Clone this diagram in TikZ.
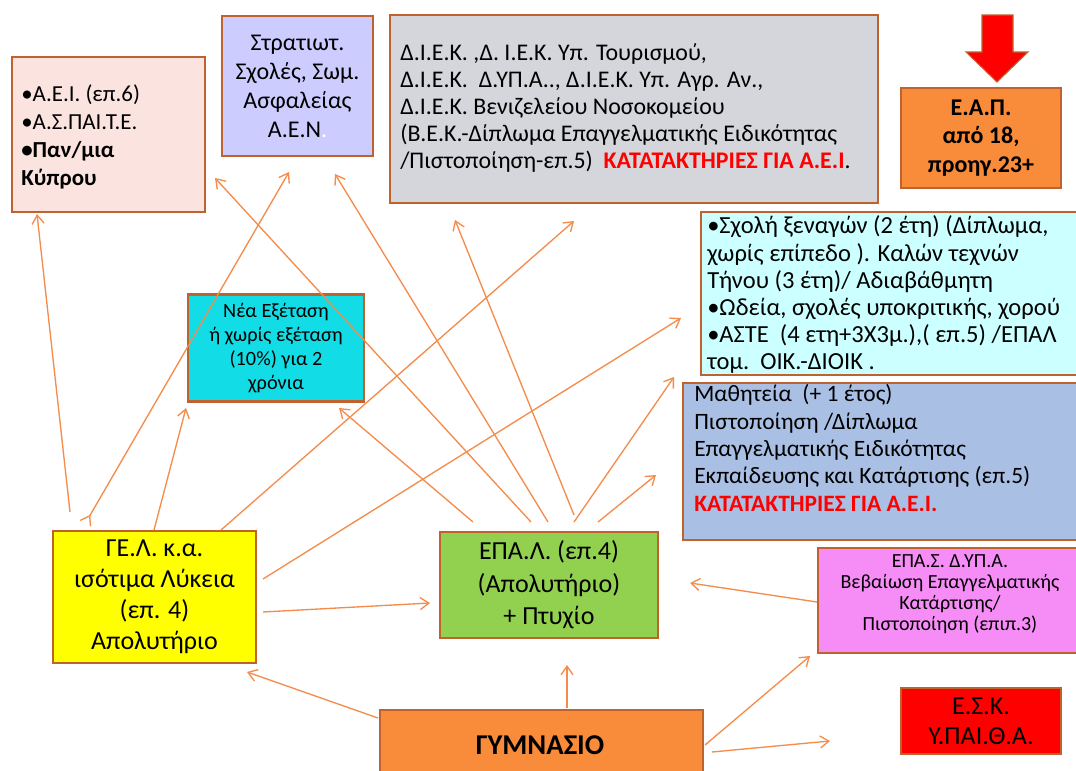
\documentclass[tikz,border=0pt]{standalone}
\usepackage{fontspec}
\setmainfont{Carlito}
\usetikzlibrary{arrows.meta}
\definecolor{bord}{RGB}{192,98,46}
\definecolor{conc}{RGB}{245,140,75}
\definecolor{aeifill}{RGB}{251,228,224}
\definecolor{milfill}{RGB}{204,204,255}
\definecolor{diekfill}{RGB}{212,214,219}
\definecolor{orfill}{RGB}{249,140,58}
\definecolor{tourfill}{RGB}{204,255,255}
\definecolor{mathfill}{RGB}{169,191,228}
\definecolor{neafill}{RGB}{18,221,230}
\definecolor{gelfill}{RGB}{255,255,0}
\definecolor{epalfill}{RGB}{146,208,80}
\definecolor{epasfill}{RGB}{246,140,246}
\definecolor{eskfill}{RGB}{255,0,0}
\definecolor{redtxt}{RGB}{255,0,0}
\begin{document}
\begin{tikzpicture}[x=0.75pt,y=-0.75pt,
  box/.style={draw=bord, line width=2.2pt, inner sep=0pt},
  txt/.style={inner sep=0pt},
  conn/.style={draw=conc, line width=1pt, -{Straight Barb[length=6.5pt,width=9pt]}},
]
\useasboundingbox (0,0) rectangle (1076,771);
\fill[white] (0,0) rectangle (1076,771);

% boxes
\node[box, fill=aeifill, minimum width=144.75pt, minimum height=116.25pt] (aei) at (108.5,134.5) {};
\node[box, fill=milfill, minimum width=113.25pt, minimum height=105pt, align=center,
  font=\fontsize{18}{21.75}\selectfont] (mil) at (297.5,86) {Στρατιωτ.\\Σχολές, Σωμ.\\Ασφαλείας\\Α.Ε.Ν{\color{white}.}};
\node[box, fill=diekfill, minimum width=366pt, minimum height=141pt] (diek) at (634,109) {};
\node[box, fill=orfill, minimum width=120pt, minimum height=75pt, align=center,
  font=\fontsize{18}{21.5}\selectfont\bfseries] (eap) at (981,138) {Ε.Α.Π.\\από 18,\\προηγ.23+};
\node[box, fill=tourfill, minimum width=291.75pt, minimum height=122.25pt] (tour) at (895.5,293.5) {};
\node[box, fill=mathfill, minimum width=305.25pt, minimum height=117.75pt] (math) at (886.5,461.5) {};
\node[box, fill=neafill, minimum width=132pt, minimum height=80.25pt, align=center,
  font=\fontsize{15.2}{18}\selectfont] (nea) at (276,348) {Νέα Εξέταση\\ή χωρίς εξέταση\\(10\%) για 2\\χρόνια};
\node[box, fill=gelfill, minimum width=152.25pt, minimum height=99pt, align=center,
  font=\fontsize{19.5}{23.25}\selectfont] (gel) at (154.5,597) {ΓΕ.Λ. κ.α.\\ισότιμα Λύκεια\\(επ. 4)\\Απολυτήριο};
\node[box, fill=epalfill, minimum width=163.5pt, minimum height=79.5pt, align=center,
  font=\fontsize{19.5}{24.4}\selectfont] (epal) at (549,585) {ΕΠΑ.Λ. (επ.4)\\(Απολυτήριο)\\+ Πτυχίο};
\node[box, fill=epasfill, minimum width=204pt, minimum height=78.75pt] (epas) at (954,600.5) {};
\node[box, fill=eskfill, minimum width=120pt, minimum height=49.5pt, align=center,
  font=\fontsize{19.5}{22.5}\selectfont] (esk) at (981,721) {Ε.Σ.Κ.\\Υ.ΠΑΙ.Θ.Α.};
\node[box, fill=orfill, minimum width=242.25pt, minimum height=60pt] (gym) at (541.5,750) {};

% red block arrow
\filldraw[fill=red, draw=bord, line width=0.8pt] (982,15) -- (1013,15) -- (1013,52) -- (1028,52) -- (997,82) -- (966,52) -- (982,52) -- cycle;

% texts
\node[txt, anchor=west, align=left, font=\fontsize{17.2}{20.8}\selectfont] (aeitxt) at (21,137) {•Α.Ε.Ι. (επ.6)\\•Α.Σ.ΠΑΙ.Τ.Ε.\\\textbf{•Παν/μια}\\\textbf{Κύπρου}};
\node[txt, anchor=west, align=left, font=\fontsize{17.9}{20.3}\selectfont] (diektxt) at (400,108) {Δ.Ι.Ε.Κ. ,Δ. Ι.Ε.Κ. Υπ. Τουρισμού,\\Δ.Ι.Ε.Κ.\ \ Δ.ΥΠ.Α.., Δ.Ι.Ε.Κ. Υπ. Αγρ. Αν.,\\Δ.Ι.Ε.Κ. Βενιζελείου Νοσοκομείου\\(Β.Ε.Κ.-Δίπλωμα Επαγγελματικής Ειδικότητας\\/Πιστοποίηση-επ.5)\ \ {\bfseries\color{redtxt}ΚΑΤΑΤΑΚΤΗΡΙΕΣ ΓΙΑ Α.Ε.Ι}.};
\node[txt, anchor=west, align=left, font=\fontsize{18.4}{20.4}\selectfont] (tourtxt) at (707,295) {•Σχολή ξεναγών (2 έτη) (Δίπλωμα,\\χωρίς επίπεδο ). Καλών τεχνών\\Τήνου (3 έτη)/ Αδιαβάθμητη\\•Ωδεία, σχολές υποκριτικής, χορού\\•ΑΣΤΕ\ \ (4 ετη+3Χ3μ.),( επ.5) /ΕΠΑΛ\\τομ.\ \ ΟΙΚ.-ΔΙΟΙΚ .};
\node[txt, anchor=west, align=left, font=\fontsize{17.6}{20.6}\selectfont] (mathtxt) at (694,448) {Μαθητεία\ \ (+ 1 έτος)\\Πιστοποίηση /Δίπλωμα\\Επαγγελματικής Ειδικότητας\\Εκπαίδευσης και Κατάρτισης (επ.5)\\{\bfseries\color{redtxt}ΚΑΤΑΤΑΚΤΗΡΙΕΣ ΓΙΑ Α.Ε.Ι.}};
\node[txt, align=center, font=\fontsize{15}{15.9}\selectfont] (epastxt) at (950,594) {ΕΠΑ.Σ. Δ.ΥΠ.Α.\\Βεβαίωση Επαγγελματικής\\Κατάρτισης/\\Πιστοποίηση (επιπ.3)};
\node[txt, font=\fontsize{21.5}{24}\selectfont\bfseries] (gymtxt) at (540,745) {ΓΥΜΝΑΣΙΟ};

% connector end points
\coordinate (g1) at (70,512);   \coordinate (aeiA) at (37,214);
\coordinate (g2) at (85,524);   \coordinate (milA) at (289,172);
\coordinate (g3) at (154,530);  \coordinate (neaA) at (186,408);
\coordinate (g4) at (221,530);  \coordinate (diekA) at (574,221);
\coordinate (g5) at (263,579);  \coordinate (tourA) at (681,318);
\coordinate (g6) at (263,612);  \coordinate (epalA) at (430,603);
\coordinate (e1) at (473,522);  \coordinate (neaB) at (339,408);
\coordinate (e2) at (531,522);  \coordinate (aeiB) at (215,178);
\coordinate (e3) at (548,522);  \coordinate (milB) at (335,174);
\coordinate (e4) at (574,515);  \coordinate (diekB) at (455,220);
\coordinate (e5) at (574,522);  \coordinate (tourB) at (674,377);
\coordinate (e6) at (598,522);  \coordinate (mathA) at (656,475);
\coordinate (s1) at (817,602);  \coordinate (epalB) at (690,583);
\coordinate (y1) at (567,708);  \coordinate (epalC) at (567,665);
\coordinate (y2) at (378,718);  \coordinate (gelA) at (247,672);
\coordinate (y3) at (705,745);  \coordinate (epasA) at (810,656);
\coordinate (y4) at (712,752);  \coordinate (eskA) at (830,741);

\draw[conn] (g1) -- (aeiA);
\draw[conn, {Straight Barb[reversed,length=6.5pt,width=9pt]}-{Straight Barb[length=6.5pt,width=9pt]}] (g2) -- (milA);
\draw[conn] (g3) -- (neaA);
\draw[conn] (g4) -- (diekA);
\draw[conn] (g5) -- (tourA);
\draw[conn] (g6) -- (epalA);
\draw[conn] (e1) -- (neaB);
\draw[conn] (e2) -- (aeiB);
\draw[conn] (e3) -- (milB);
\draw[conn] (e4) -- (diekB);
\draw[conn] (e5) -- (tourB);
\draw[conn] (e6) -- (mathA);
\draw[conn] (s1) -- (epalB);
\draw[conn] (y1) -- (epalC);
\draw[conn] (y2) -- (gelA);
\draw[conn] (y3) -- (epasA);
\draw[conn] (y4) -- (eskA);
\end{tikzpicture}
\end{document}
